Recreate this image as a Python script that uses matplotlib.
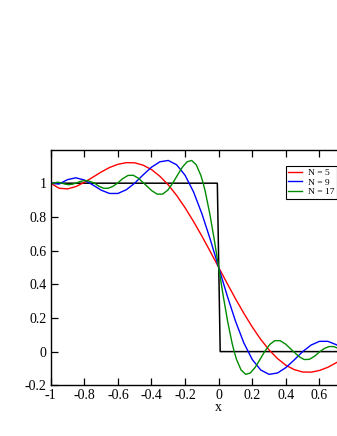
import matplotlib
matplotlib.use("Agg")
import matplotlib.pyplot as plt

plt.rcParams['font.family'] = ['Liberation Serif', 'DejaVu Serif']

# step function
step_x = [-1.0, -0.008, 0.009, 1.0]
step_y = [1.0, 1.0, 0.0, 0.0]

# sample grid for N = 5 and N = 9
grid_x = [-1.0, -0.95, -0.9, -0.85, -0.8, -0.75, -0.7, -0.65, -0.6, -0.55, -0.5,
          -0.45, -0.4, -0.35, -0.3, -0.25, -0.2, -0.15, -0.1, -0.05, 0.0,
          0.05, 0.1, 0.15, 0.2, 0.25, 0.3, 0.35, 0.4, 0.45, 0.5,
          0.55, 0.6, 0.65, 0.7, 0.75, 0.8, 0.85, 0.9, 0.95, 1.0]

n5_y = [1.000, 0.970, 0.966, 0.980, 1.005, 1.035, 1.066, 1.093, 1.112, 1.122, 1.121,
        1.107, 1.081, 1.041, 0.990, 0.927, 0.854, 0.773, 0.686, 0.594, 0.500,
        0.406, 0.314, 0.227, 0.146, 0.073, 0.010, -0.041, -0.081, -0.107, -0.121,
        -0.122, -0.112, -0.093, -0.066, -0.035, -0.005, 0.020, 0.034, 0.030, 0.000]

n9_y = [1.000, 0.995, 1.021, 1.032, 1.019, 0.990, 0.959, 0.939, 0.939, 0.961, 1.000,
        1.049, 1.095, 1.127, 1.135, 1.109, 1.047, 0.949, 0.819, 0.666, 0.500,
        0.334, 0.181, 0.051, -0.047, -0.109, -0.135, -0.127, -0.095, -0.049, 0.000,
        0.039, 0.061, 0.061, 0.041, 0.010, -0.019, -0.032, -0.021, 0.005, 0.000]

# N = 17 needs finer sampling
n17_x = [-1.0, -0.9915, -0.983, -0.9578, -0.9325, -0.9119, -0.8914, -0.8708, -0.8502,
         -0.8224, -0.7946, -0.7668, -0.739, -0.7117, -0.6844, -0.6572, -0.6299, -0.6026,
         -0.5712, -0.5398, -0.5085, -0.4771, -0.4457, -0.434, -0.3991, -0.3659, -0.3341,
         -0.3035, -0.2737, -0.2446, -0.2162, -0.1881, -0.1606, -0.1334, -0.1064, -0.0923,
         -0.0796, -0.053, -0.0265, 0.0,
         0.0265, 0.053, 0.0796, 0.0923, 0.1064, 0.1334, 0.1606, 0.1881, 0.2162, 0.2446,
         0.2737, 0.3035, 0.3341, 0.3659, 0.3991, 0.434, 0.4457, 0.4771, 0.5085, 0.5398,
         0.5712, 0.6026, 0.6299, 0.6572, 0.6844, 0.7117, 0.739, 0.7668, 0.7946, 0.8224,
         0.8502, 0.8708, 0.8914, 0.9119, 0.9325, 0.9578, 0.983, 0.9915, 1.0]
n17_y = [1.000, 0.998, 1.000, 1.006, 1.000, 0.994, 0.991, 0.994, 1.000,
         1.011, 1.016, 1.011, 1.000, 0.981, 0.970, 0.970, 0.981, 1.000,
         1.027, 1.046, 1.047, 1.029, 1.000, 0.989, 0.956, 0.935, 0.935,
         0.958, 1.000, 1.049, 1.095, 1.127, 1.135, 1.109, 1.047, 1.000,
         0.949, 0.819, 0.666, 0.500,
         0.334, 0.181, 0.051, 0.000, -0.047, -0.109, -0.135, -0.127, -0.095, -0.049,
         0.000, 0.042, 0.065, 0.065, 0.044, 0.011, 0.000, -0.029, -0.047, -0.046,
         -0.027, 0.000, 0.019, 0.030, 0.030, 0.019, 0.000, -0.011, -0.016, -0.011,
         0.000, 0.006, 0.009, 0.006, 0.000, -0.006, 0.000, 0.002, 0.000]

# only the ticks that fall inside the visible picture
x_ticks = [-1.0, -0.8, -0.6, -0.4, -0.2, 0.0, 0.2, 0.4, 0.6]
x_tick_labels = ["-1", "-0.8", "-0.6", "-0.4", "-0.2", "0", "0.2", "0.4", "0.6"]
y_ticks = [-0.2, 0.0, 0.2, 0.4, 0.6, 0.8, 1.0]
y_tick_labels = ["-0.2", "0", "0.2", "0.4", "0.6", "0.8", "1"]

fig = plt.figure(figsize=(3.37, 4.36), dpi=100)
# axes runs past the right edge of the picture, like the original
ax = fig.add_axes([0.1504, 0.1163, 0.997, 0.5408])

ax.plot(step_x, step_y, color='black', lw=1.1)
ax.plot(grid_x, n5_y, color='#ff0000', lw=1.0, label='N = 5')
ax.plot(grid_x, n9_y, color='#0000ff', lw=1.0, label='N = 9')
ax.plot(n17_x, n17_y, color='#008b00', lw=1.0, label='N = 17')

ax.set_xlim(-1, 1)
ax.set_ylim(-0.2, 1.2)
ax.set_xticks(x_ticks)
ax.set_xticklabels(x_tick_labels)
ax.set_yticks(y_ticks)
ax.set_yticklabels(y_tick_labels)
ax.tick_params(direction='in', length=4.8, width=0.9, labelsize=10, pad=3,
               top=True, right=False)
ax.set_xlabel('x', fontsize=10, labelpad=-1)

for side in ['left', 'bottom', 'top']:
    ax.spines[side].set_linewidth(1.0)
ax.spines['right'].set_visible(False)

leg = ax.legend(loc='upper left', bbox_to_anchor=(286 / 337, 1 - 166 / 436),
                bbox_transform=fig.transFigure, borderaxespad=0, fontsize=6.8,
                handlelength=1.45, handletextpad=0.65, labelspacing=0.12,
                borderpad=0.25, fancybox=False, framealpha=1, edgecolor='black')
leg.get_frame().set_linewidth(0.8)

fig.savefig('out.png', dpi=100)
